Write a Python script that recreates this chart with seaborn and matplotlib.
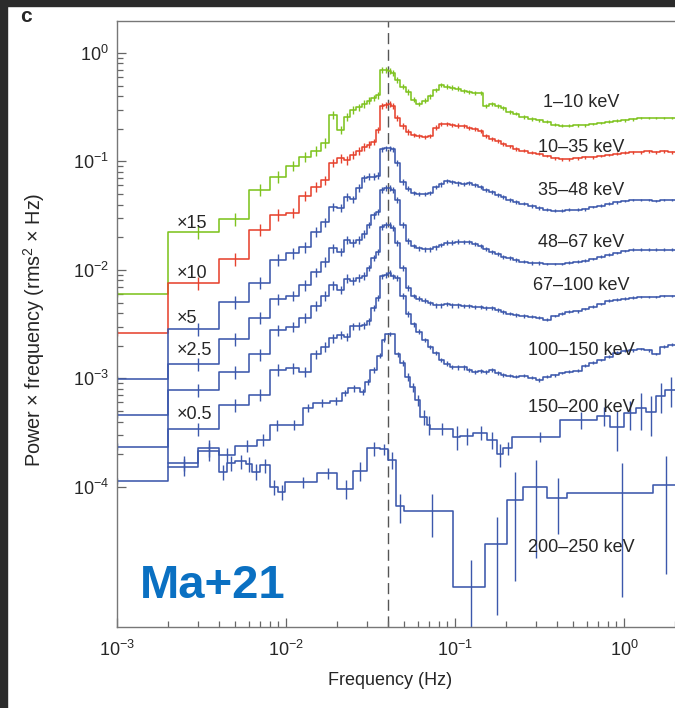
import numpy as np
import pandas as pd
import seaborn as sns
import matplotlib.pyplot as plt
from matplotlib.patches import Rectangle
from matplotlib.ticker import NullFormatter

# Frequency bin edges (Hz) for the six upper bands, first bin is 0-2 mHz
freq_edges = [0.0, 0.002, 0.004, 0.006, 0.008, 0.010, 0.012, 0.014, 0.016, 0.018,
              0.020, 0.022, 0.024, 0.026, 0.028, 0.030, 0.032, 0.034, 0.036, 0.038,
              0.040, 0.042, 0.044, 0.047, 0.051, 0.055, 0.059, 0.064, 0.069, 0.074,
              0.080, 0.086, 0.093, 0.100, 0.108, 0.117, 0.126, 0.136, 0.147, 0.159,
              0.172, 0.186, 0.200, 0.22, 0.24, 0.27, 0.30, 0.33, 0.37, 0.41,
              0.45, 0.50, 0.56, 0.62, 0.69, 0.77, 0.86, 0.96, 1.07, 1.19,
              1.32, 1.47, 1.63, 1.82, 2.02]

# log10(power x frequency) per bin, scaled by the factor written on the plot
lg_1_10 = [-2.22, -1.65, -1.53, -1.26, -1.14, -1.04, -0.955, -0.90,
           -0.83, -0.57, -0.71, -0.59, -0.525, -0.50, -0.47, -0.44,
           -0.415, -0.39, -0.155, -0.155, -0.165, -0.185, -0.25, -0.31,
           -0.36, -0.43, -0.47, -0.44, -0.40, -0.34, -0.295, -0.31,
           -0.32, -0.33, -0.35, -0.36, -0.37, -0.37, -0.49, -0.47,
           -0.49, -0.51, -0.545, -0.56, -0.59, -0.61, -0.62, -0.635,
           -0.66, -0.67, -0.67, -0.665, -0.665, -0.655, -0.645, -0.635,
           -0.625, -0.62, -0.61, -0.60, -0.60, -0.60, -0.60, -0.60]
lg_10_35 = [-2.58, -2.12, -1.90, -1.63, -1.49, -1.475, -1.315, -1.235,
            -1.175, -1.015, -0.97, -0.99, -0.94, -0.905, -0.865, -0.845,
            -0.82, -0.71, -0.49, -0.48, -0.47, -0.49, -0.60, -0.67,
            -0.73, -0.755, -0.765, -0.775, -0.765, -0.69, -0.655, -0.655,
            -0.665, -0.67, -0.67, -0.69, -0.70, -0.72, -0.765, -0.79,
            -0.81, -0.84, -0.86, -0.885, -0.90, -0.92, -0.93, -0.95,
            -0.97, -0.98, -0.98, -0.97, -0.96, -0.96, -0.95, -0.94,
            -0.93, -0.92, -0.915, -0.915, -0.905, -0.915, -0.905, -0.915]
lg_35_48 = [-3.005, -2.545, -2.295, -2.12, -1.905, -1.845, -1.79, -1.65,
            -1.56, -1.42, -1.43, -1.325, -1.35, -1.245, -1.155, -1.14,
            -1.14, -1.13, -0.89, -0.88, -0.88, -0.89, -1.015, -1.19,
            -1.25, -1.29, -1.30, -1.30, -1.29, -1.235, -1.21, -1.18,
            -1.19, -1.20, -1.21, -1.20, -1.215, -1.235, -1.265, -1.28,
            -1.31, -1.33, -1.355, -1.375, -1.39, -1.41, -1.43, -1.445,
            -1.455, -1.455, -1.445, -1.445, -1.44, -1.42, -1.41, -1.39,
            -1.375, -1.365, -1.355, -1.355, -1.355, -1.365, -1.355, -1.355]
lg_48_67 = [-3.335, -2.865, -2.635, -2.44, -2.27, -2.24, -2.14, -2.02,
            -1.925, -1.80, -1.835, -1.725, -1.75, -1.725, -1.67, -1.585,
            -1.495, -1.465, -1.265, -1.245, -1.245, -1.265, -1.355, -1.585,
            -1.735, -1.78, -1.80, -1.81, -1.81, -1.79, -1.77, -1.75,
            -1.75, -1.74, -1.74, -1.74, -1.76, -1.78, -1.81, -1.835,
            -1.855, -1.88, -1.89, -1.91, -1.925, -1.935, -1.935, -1.945,
            -1.945, -1.945, -1.935, -1.925, -1.915, -1.90, -1.88, -1.86,
            -1.845, -1.825, -1.815, -1.815, -1.815, -1.815, -1.815, -1.815]
lg_67_100 = [-3.63, -3.105, -2.94, -2.78, -2.555, -2.525, -2.44, -2.33,
             -2.24, -2.14, -2.185, -2.08, -2.10, -2.075, -2.055, -1.98,
             -1.89, -1.835, -1.605, -1.585, -1.585, -1.615, -1.75, -1.98,
             -2.165, -2.24, -2.265, -2.285, -2.305, -2.325, -2.325, -2.315,
             -2.325, -2.325, -2.33, -2.33, -2.34, -2.34, -2.35, -2.35,
             -2.37, -2.385, -2.405, -2.415, -2.425, -2.43, -2.44, -2.46,
             -2.425, -2.405, -2.385, -2.38, -2.36, -2.34, -2.315, -2.285,
             -2.275, -2.265, -2.255, -2.25, -2.25, -2.25, -2.24, -2.24]
lg_100_150 = [-3.945, -3.465, -3.245, -3.15, -2.92, -2.905, -2.94, -2.78,
              -2.71, -2.63, -2.60, -2.615, -2.52, -2.515, -2.51, -2.475,
              -2.35, -2.26, -2.06, -2.045, -2.03, -2.06, -2.075, -2.24,
              -2.405, -2.50, -2.57, -2.645, -2.71, -2.765, -2.83, -2.865,
              -2.895, -2.90, -2.90, -2.92, -2.94, -2.93, -2.94, -2.92,
              -2.95, -2.97, -2.975, -2.985, -2.975, -2.995, -3.015, -2.985,
              -2.97, -2.95, -2.94, -2.93, -2.885, -2.855, -2.83, -2.80,
              -2.765, -2.745, -2.74, -2.73, -2.74, -2.775, -2.71, -2.69]
# relative 1-sigma errors of the upper bands
rel_err = [0.07, 0.14, 0.14, 0.13, 0.12, 0.11, 0.11, 0.10,
           0.10, 0.09, 0.09, 0.09, 0.08, 0.08, 0.08, 0.07,
           0.07, 0.07, 0.06, 0.06, 0.06, 0.06, 0.06, 0.06,
           0.06, 0.05, 0.05, 0.05, 0.05, 0.05, 0.05, 0.05,
           0.05, 0.05, 0.045, 0.045, 0.045, 0.045, 0.04, 0.04,
           0.04, 0.04, 0.035, 0.035, 0.035, 0.035, 0.035, 0.03,
           0.03, 0.03, 0.03, 0.03, 0.03, 0.03, 0.03, 0.03,
           0.03, 0.03, 0.03, 0.03, 0.03, 0.03, 0.03, 0.03]

# the two hardest bands use coarser bins
edges_150_200 = [0.002, 0.003, 0.004, 0.005, 0.0067, 0.008, 0.0096, 0.0126, 0.0145,
                 0.0182, 0.0214, 0.0233, 0.0274, 0.0293, 0.0314, 0.0345, 0.037,
                 0.0385, 0.0442, 0.0473, 0.0506, 0.0542, 0.058, 0.062, 0.0683,
                 0.071, 0.097, 0.107, 0.128, 0.155, 0.177, 0.192, 0.217, 0.418,
                 0.692, 0.826, 1.0, 1.17, 1.35, 1.55, 1.75, 2.05]
lg_150_200 = [-3.78, -3.64, -3.705, -3.62, -3.565, -3.43, -3.43, -3.27,
              -3.225, -3.21, -3.135, -3.09, -3.125, -3.03, -2.92, -2.79,
              -2.645, -2.59, -2.78, -2.855, -2.985, -3.08, -3.20, -3.355,
              -3.43, -3.465, -3.54, -3.53, -3.50, -3.565, -3.695, -3.64,
              -3.54, -3.38, -3.345, -3.445, -3.32, -3.275, -3.31, -3.16, -3.105]
err_150_200 = [0.16, 0.18, 0.16, 0.12, 0.12, 0.12, 0.10, 0.09,
               0.08, 0.08, 0.07, 0.07, 0.07, 0.06, 0.06, 0.05,
               0.05, 0.04, 0.05, 0.06, 0.08, 0.10, 0.12, 0.15,
               0.20, 0.12, 0.25, 0.18, 0.14, 0.18, 0.24, 0.14,
               0.10, 0.18, 0.20, 0.40, 0.30, 0.37, 0.40, 0.30, 0.30]

edges_200_250 = [0.002, 0.003, 0.004, 0.0045, 0.005, 0.0058, 0.0063, 0.0070, 0.0080,
                 0.0090, 0.0099, 0.0152, 0.020, 0.025, 0.030, 0.036, 0.0403,
                 0.0445, 0.050, 0.097, 0.150, 0.202, 0.253, 0.35, 0.458, 1.49, 2.05]
lg_200_250 = [-3.815, -3.67, -3.86, -3.78, -3.765, -3.79, -3.86, -3.80,
              -4.00, -4.045, -3.955, -3.875, -4.02, -3.85, -3.645, -3.655,
              -3.75, -4.18, -4.22, -4.92, -4.525, -4.12, -4.00, -4.105,
              -4.06, -3.98]
err_200_250 = [0.18, 0.19, 0.16, 0.16, 0.15, 0.15, 0.17, 0.15,
               0.16, 0.16, 0.12, 0.12, 0.20, 0.20, 0.15, 0.12,
               0.18, 0.30, 0.43, 0.76, 0.78, 0.82, 0.78, 0.53,
               0.89, 0.85]

band_names = ['1–10 keV', '10–35 keV', '35–48 keV', '48–67 keV',
              '67–100 keV', '100–150 keV', '150–200 keV', '200–250 keV']
band_label_y = [0.318, 0.1224, 0.0491, 0.0163, 0.00654, 0.00165, 0.000491, 2.52e-5]
factor_names = ['×15', '×10', '×5', '×2.5', '×0.5']
factor_y = [0.0244, 0.00844, 0.00327, 0.00165, 0.00042]
qpo_freq = 0.04

green, red, blue = '#7fc31f', '#e6432f', '#3c58ac'

sns.set_style('ticks')
plt.rcParams['font.family'] = ['Liberation Sans', 'DejaVu Sans']
plt.rcParams['mathtext.default'] = 'regular'

fig = plt.figure(figsize=(6.75, 7.08), dpi=100)
ax = fig.add_axes([117 / 675, 81 / 708, 558 / 675, 606 / 708])
ax.set_xscale('log')
ax.set_yscale('log')


def draw_band(edges, lg, err, color):
    edges = np.array(edges, dtype=float)
    vals = 10 ** np.array(lg)
    centres = 0.5 * (edges[:-1] + edges[1:])
    df = pd.DataFrame({'freq': np.clip(edges, 5e-4, None),
                       'power': np.append(vals, vals[-1])})
    sns.lineplot(data=df, x='freq', y='power', drawstyle='steps-post',
                 estimator=None, sort=False, color=color, lw=1.15, ax=ax)
    ax.errorbar(centres, vals, yerr=vals * np.array(err), fmt='none',
                ecolor=color, elinewidth=1.0)


ax.axvline(qpo_freq, color='#555555', lw=1.0, dashes=(8, 4), zorder=0)

draw_band(freq_edges, lg_1_10, rel_err, green)
draw_band(freq_edges, lg_10_35, rel_err, red)
for lg in [lg_35_48, lg_48_67, lg_67_100, lg_100_150]:
    draw_band(freq_edges, lg, rel_err, blue)
draw_band(edges_150_200, lg_150_200, err_150_200, blue)
draw_band(edges_200_250, lg_200_250, err_200_250, blue)

for name, y in zip(band_names, band_label_y):
    ax.text(0.557, y, name, ha='center', va='baseline', fontsize=13)
for name, y in zip(factor_names, factor_y):
    ax.text(2.26e-3, y, name, ha='left', va='baseline', fontsize=13)

ax.text(0.041, 0.048, 'Ma+21', transform=ax.transAxes, fontsize=34,
        fontweight='bold', color='#0a70c2', va='baseline')

ax.set_xlim(1e-3, 2.0)
ax.set_ylim(5.1e-6, 1.97)

ax.set_xticks([1e-3, 1e-2, 1e-1, 1e0])
ax.set_xticklabels(['$10^{-3}$', '$10^{-2}$', '$10^{-1}$', '$10^{0}$'])
ax.set_xticks([k * 10.0 ** e for e in range(-3, 1) for k in range(2, 10)
               if k * 10.0 ** e <= 2.0], minor=True)
ax.set_yticks([1e-4, 1e-3, 1e-2, 1e-1, 1e0])
ax.set_yticklabels(['$10^{-4}$', '$10^{-3}$', '$10^{-2}$', '$10^{-1}$', '$10^{0}$'])
ax.set_yticks([k * 10.0 ** e for e in range(-4, 0) for k in range(2, 10)], minor=True)
ax.xaxis.set_minor_formatter(NullFormatter())
ax.yaxis.set_minor_formatter(NullFormatter())

ax.tick_params(which='both', direction='in', color='#666666', labelsize=13,
               width=0.9)
ax.tick_params(which='major', length=6.5)
ax.tick_params(which='minor', length=4.3)
ax.tick_params(axis='x', pad=9)
ax.tick_params(axis='y', pad=6)

for side in ['left', 'bottom', 'top']:
    ax.spines[side].set_color('#777777')
    ax.spines[side].set_linewidth(1.0)
ax.spines['right'].set_visible(False)

ax.set_xlabel('Frequency (Hz)', fontsize=13)
ax.set_ylabel('Power × frequency (rms$^2$ × Hz)', fontsize=14.3)
ax.xaxis.set_label_coords(0.489, -0.074)
ax.yaxis.set_label_coords(-0.126, 0.49)

fig.text(20 / 675, 1 - 22 / 708, 'c', fontsize=15, fontweight='bold',
         va='baseline')

# dark screenshot frame on the left and top edges
fig.patches.append(Rectangle((0, 0), 7 / 675, 1, transform=fig.transFigure,
                             color='#2b2b2b', zorder=10))
fig.patches.append(Rectangle((0, 1 - 6 / 708), 1, 6 / 708,
                             transform=fig.transFigure, color='#2b2b2b', zorder=10))

fig.savefig('out.png', dpi=100)
